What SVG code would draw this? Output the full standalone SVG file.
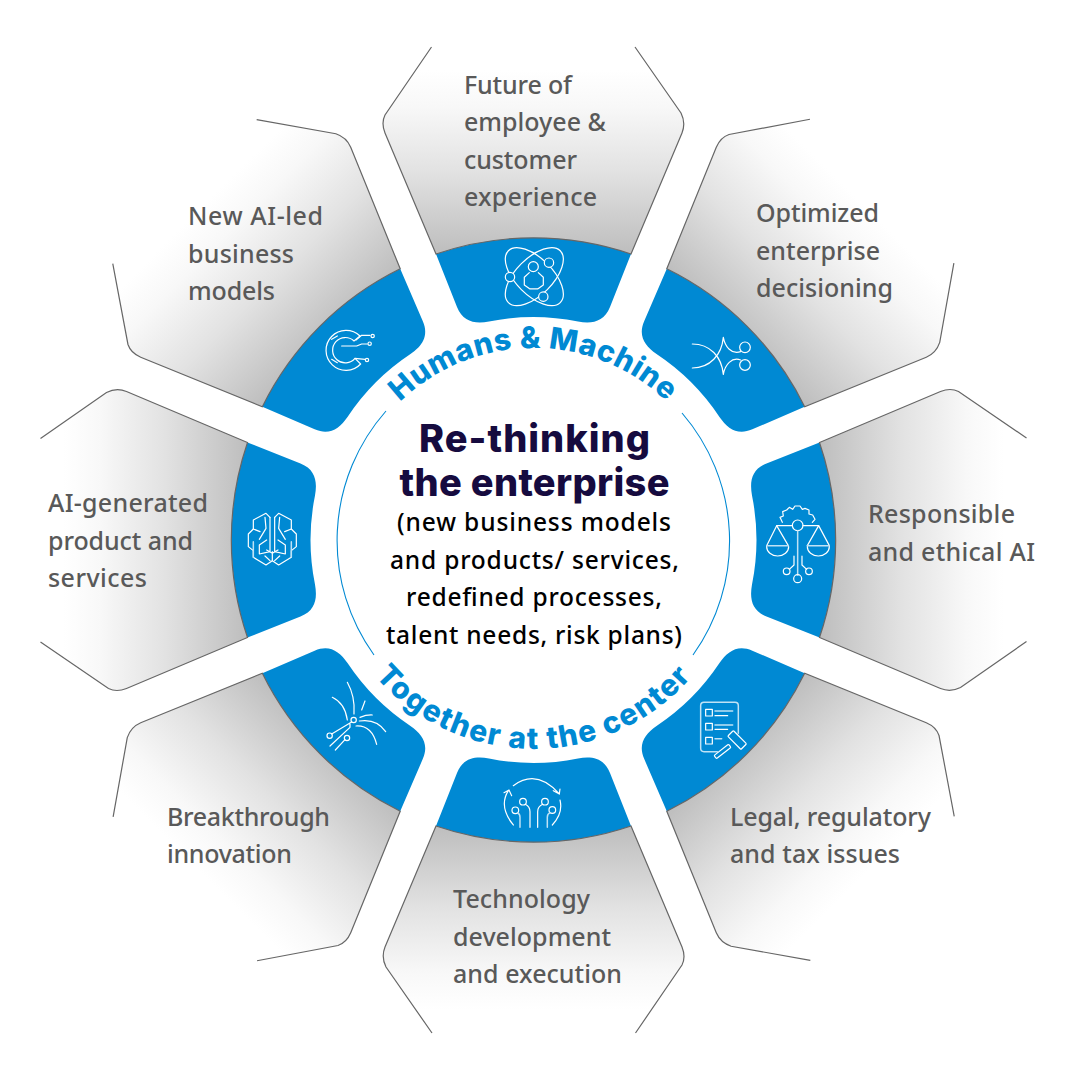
<svg xmlns="http://www.w3.org/2000/svg" xmlns:xlink="http://www.w3.org/1999/xlink" width="1080" height="1080" viewBox="0 0 1080 1080">
<style>
.t{font-family:"Noto Sans","Liberation Sans",sans-serif;font-size:25px;font-weight:500;fill:#595959}
.h{font-family:Inter,"Liberation Sans",sans-serif;font-size:38px;font-weight:800;fill:#160b3f;text-anchor:middle}
.s{font-family:"Noto Sans","Liberation Sans",sans-serif;font-size:24.5px;font-weight:550;fill:#000;text-anchor:middle}
.c{font-family:Inter,"Liberation Sans",sans-serif;font-size:30px;font-weight:800;fill:#0089d3}
.i{fill:none;stroke:#fff;stroke-width:3.6;stroke-linecap:round;stroke-linejoin:round}
.i2{stroke:#bfe2f5;stroke-width:4.5}
</style>
<defs>
<linearGradient id="g" gradientUnits="userSpaceOnUse" x1="0" y1="70" x2="0" y2="255">
<stop offset="0" stop-color="#fff"/><stop offset=".2" stop-color="#f8f8f8"/><stop offset=".55" stop-color="#e2e2e2"/><stop offset="1" stop-color="#bdbdbd"/>
</linearGradient>
<path id="pf" d="M431.5,47L385,115Q381,123 385,133L436,254A302,302 0 0 1 631,254L682,133Q686,123 681,113L635,47Z" fill="url(#g)"/>
<path id="ps" d="M431.5,47L385,115Q381,123 385,133L436,254A302,302 0 0 1 631,254L682,133Q686,123 681,113L635,47" fill="none" stroke="#666" stroke-width="1.2"/>
<path id="b" d="M436,254A302,302 0 0 1 631,254L610,307C604,322 592,324 578,321.5A224,224 0 0 0 489,321.5C475,324 463,322 457,307Z" fill="#0089d3"/>
<path id="arcT" d="M341.5,540A192,192 0 0 1 725.5,540"/>
<path id="arcB" d="M324.5,540A209,209 0 0 0 742.5,540"/>
</defs>
<g id="node-future">
<use xlink:href="#pf" href="#pf"/><use xlink:href="#b" href="#b"/><use xlink:href="#ps" href="#ps"/>
<text class="t" x="464" y="94" textLength="108">Future of</text><text class="t" x="464" y="131" textLength="142">employee &amp;</text><text class="t" x="464" y="169" textLength="113">customer</text><text class="t" x="464" y="206" textLength="133">experience</text>
<g class="i" transform="translate(370 30) scale(.3333)">
<ellipse cx="493" cy="740" rx="110" ry="55" transform="rotate(45 493 740)"/><ellipse cx="493" cy="740" rx="110" ry="55" transform="rotate(-45 493 740)"/>
<circle cx="490" cy="710" r="15"/><path d="M478,728L463,742V765L480,777H503L520,765V742L505,728"/>
<circle cx="537" cy="698" r="14" fill="#0089d3"/><circle cx="420" cy="741" r="14" fill="#0089d3"/><circle cx="520" cy="800" r="14" fill="#0089d3"/>
</g></g>
<g id="node-decisioning" >
<g transform="rotate(45 533.5 540)"><use xlink:href="#pf" href="#pf"/><use xlink:href="#b" href="#b"/><use xlink:href="#ps" href="#ps"/></g>
<text class="t" x="756" y="222" textLength="123">Optimized</text><text class="t" x="756" y="260" textLength="124">enterprise</text><text class="t" x="756" y="297" textLength="137">decisioning</text>
<g class="i" transform="translate(630 250) scale(.3333)">
<path d="M187,282C240,282 275,320 280,373M187,354C240,354 275,315 280,262M280,262C285,290 305,315 332,305M280,373C285,345 305,320 332,330"/>
<circle cx="345" cy="292" r="16"/><circle cx="345" cy="345" r="16"/>
</g></g>
<g id="node-responsible">
<g transform="rotate(90 533.5 540)"><use xlink:href="#pf" href="#pf"/><use xlink:href="#b" href="#b"/><use xlink:href="#ps" href="#ps"/></g>
<text class="t" x="868" y="523" textLength="147">Responsible</text><text class="t" x="868" y="561" textLength="167">and ethical AI</text>
<g class="i" transform="translate(740 430) scale(.3333)">
<path d="M127,277L120,262L130,258L128,245L140,240L148,232L158,238L165,228L180,228L187,238L195,235L207,240L207,252L218,255L225,268L217,277"/>
<circle cx="173" cy="286" r="16"/><path d="M157,287H110M189,287H236"/>
<path class="i2" d="M173,302V435"/><circle cx="173" cy="446" r="12"/>
<path d="M110,287L80,347M110,287L145,347M236,287L202,347M236,287L268,347"/>
<path class="i2" d="M80,347H145M202,347H268"/><path d="M80,350A33,28 0 0 0 146,350M202,350A33,28 0 0 0 268,350"/>
<circle cx="140" cy="424" r="10"/><circle cx="207" cy="424" r="10"/><path d="M162,378V405L148,418M186,378V405L200,418"/>
</g></g>
<g id="node-legal">
<g transform="rotate(135 533.5 540)"><use xlink:href="#pf" href="#pf"/><use xlink:href="#b" href="#b"/><use xlink:href="#ps" href="#ps"/></g>
<text class="t" x="730" y="826" textLength="201">Legal, regulatory</text><text class="t" x="730" y="863" textLength="170">and tax issues</text>
<g class="i" transform="translate(630 640) scale(.3333)">
<path class="i2" d="M262,335H222Q212,335 212,325V197Q212,187 222,187H315Q325,187 325,197V280"/>
<rect x="227" y="208" width="20" height="20"/><rect x="227" y="250" width="20" height="20"/><rect x="227" y="292" width="20" height="20"/>
<path class="i2" d="M255,213H308M255,255H308M255,296H275"/><path d="M255,227H293M255,268H293"/>
<rect x="293" y="287" width="56" height="24" rx="3" transform="rotate(45 320 300)"/>
<rect x="250" y="328" width="55" height="12" rx="3" transform="rotate(-38 278 334)"/>
</g></g>
<g id="node-technology">
<g transform="rotate(180 533.5 540)"><use xlink:href="#pf" href="#pf"/><use xlink:href="#b" href="#b"/><use xlink:href="#ps" href="#ps"/></g>
<text class="t" x="453" y="908" textLength="137">Technology</text><text class="t" x="453" y="946" textLength="158">development</text><text class="t" x="453" y="983" textLength="169">and execution</text>
<g class="i" transform="translate(430 750) scale(.3333)">
<path d="M250,107Q320,55 388,132M370,122L388,132L390,117M250,225Q205,170 235,122M222,128L237,120L245,137M390,150Q400,190 367,225"/>
<circle cx="279" cy="155" r="10"/><circle cx="345" cy="155" r="10"/><circle cx="256" cy="181" r="10"/><circle cx="367" cy="180" r="10"/>
<path d="M286,163Q300,170 300,185V232M338,163Q323,170 323,185V232"/><path class="i2" d="M263,189Q270,192 270,202V232M360,188Q352,192 352,202V232"/>
</g></g>
<g id="node-breakthrough">
<g transform="rotate(225 533.5 540)"><use xlink:href="#pf" href="#pf"/><use xlink:href="#b" href="#b"/><use xlink:href="#ps" href="#ps"/></g>
<text class="t" x="167" y="826" textLength="163">Breakthrough</text><text class="t" x="167" y="863" textLength="125">innovation</text>
<g class="i" transform="translate(250 640) scale(.3333)">
<path d="M292,127Q316,170 312,222M247,172Q285,190 292,240M345,183L335,210M330,232Q350,224 367,225M328,243Q380,235 407,275M318,258Q365,255 380,313"/>
<circle cx="311" cy="240" r="8"/><circle cx="239" cy="287" r="8"/><circle cx="291" cy="294" r="8"/>
<path d="M305,246L245,282M240,318L300,262V252M256,330L285,299"/>
</g></g>
<g id="node-generated">
<g transform="rotate(270 533.5 540)"><use xlink:href="#pf" href="#pf"/><use xlink:href="#b" href="#b"/><use xlink:href="#ps" href="#ps"/></g>
<text class="t" x="48" y="512" textLength="160">AI-generated</text><text class="t" x="48" y="550" textLength="145">product and</text><text class="t" x="48" y="587" textLength="99">services</text>
<g class="i" transform="translate(220 430) scale(.3333)">
<path d="M150,262L138,250L100,270V297L85,312V350L100,362V382L138,405L157,392L176,405L214,382V362L229,350V312L214,297V270L176,250L164,262"/>
<path d="M150,262V365L118,372V345L140,330M164,262V365L196,372V345L174,330M157,365V392M100,297L120,305M214,297L194,305M135,262L138,295L118,328M179,262L176,295L196,328M140,360L157,370L174,360M135,378L150,392M179,378L164,392"/>
<path class="i2" d="M100,335V382M214,335V382"/>
</g></g>
<g id="node-business">
<g transform="rotate(315 533.5 540)"><use xlink:href="#pf" href="#pf"/><use xlink:href="#b" href="#b"/><use xlink:href="#ps" href="#ps"/></g>
<text class="t" x="188" y="225" textLength="135">New AI-led</text><text class="t" x="188" y="263" textLength="106">business</text><text class="t" x="188" y="300" textLength="87">models</text>
<g class="i" transform="translate(250 250) scale(.3333)">
<path d="M330,258A60,60 0 1 0 332,342L315,325A38,38 0 1 1 312,273Z"/>
<path d="M245,268L262,258M245,328L262,338"/>
<path d="M275,288H320L335,282H352M318,270L335,256H360M315,325L345,328"/>
<circle cx="368" cy="258" r="5"/><circle cx="359" cy="281" r="5"/><circle cx="351" cy="330" r="5"/>
</g></g>
<g id="center">
<path d="M386,411A196,196 0 0 0 374,655" fill="none" stroke="#0089d3" stroke-width="1.1"/>
<path d="M682,413A196,196 0 0 1 693,655" fill="none" stroke="#0089d3" stroke-width="1.1"/>
<text class="h" x="534.5" y="452" textLength="231">Re-thinking</text>
<text class="h" x="534.5" y="496" textLength="270">the enterprise</text>
<text class="s" x="534" y="531" textLength="274">(new business models</text>
<text class="s" x="534.5" y="569" textLength="289">and products/ services,</text>
<text class="s" x="534" y="606" textLength="256">redefined processes,</text>
<text class="s" x="534" y="644" textLength="296">talent needs, risk plans)</text>
<text class="c" text-anchor="middle" letter-spacing=".6"><textPath xlink:href="#arcT" href="#arcT" startOffset="50%">Humans &amp; Machine</textPath></text>
<text class="c" text-anchor="middle" letter-spacing="1.4"><textPath xlink:href="#arcB" href="#arcB" startOffset="50%">Together at the center</textPath></text>
</g>
</svg>
